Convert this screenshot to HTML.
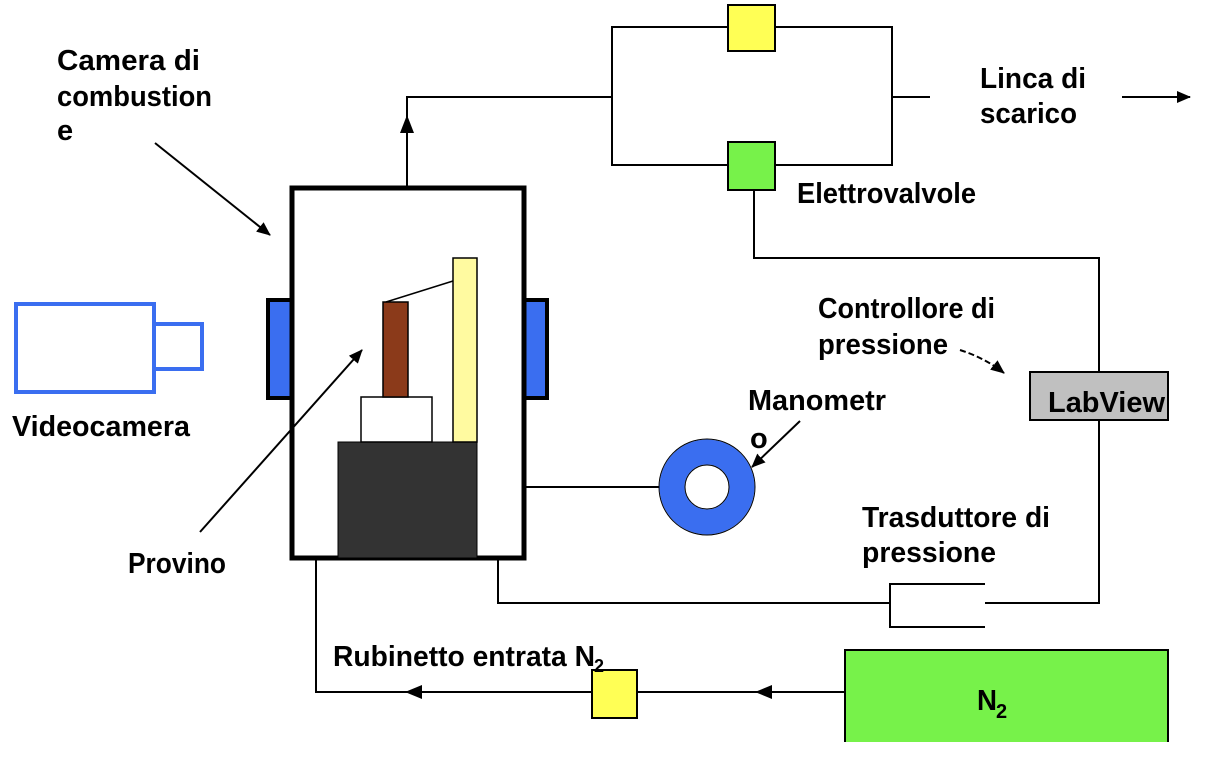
<!DOCTYPE html>
<html><head><meta charset="utf-8"><style>
html,body{margin:0;padding:0;background:#fff;}
svg{display:block;}
text{font-family:"Liberation Sans",Arial,sans-serif;font-size:29px;font-weight:bold;fill:#000;}
</style></head><body>
<svg width="1206" height="762" viewBox="0 0 1206 762" xmlns="http://www.w3.org/2000/svg">
<defs>
<marker id="ah" markerWidth="14" markerHeight="14" refX="13" refY="7" orient="auto" markerUnits="userSpaceOnUse"><path d="M0,1 L14,7 L0,13 z" fill="#000"/></marker>
</defs>
<g fill="none" stroke="#000" stroke-width="2">
<polyline points="407,186 407,97 612,97"/>
<rect x="612" y="27" width="280" height="138"/>
<line x1="892" y1="97" x2="930" y2="97"/>
<line x1="1122" y1="97" x2="1190" y2="97" marker-end="url(#ah)"/>
<polyline points="754,190 754,258 1099,258 1099,372"/>
<polyline points="1099,420 1099,603 985,603"/>
<polyline points="985,584 890,584 890,627 985,627"/>
<polyline points="498,560 498,603 890,603"/>
<line x1="525" y1="487" x2="660" y2="487"/>
<polyline points="845,692 316,692 316,560"/>
</g>
<path d="M400,133 L407,115 L414,133 z" fill="#000"/>
<path d="M772,685 L755,692 L772,699 z" fill="#000"/>
<path d="M422,685 L405,692 L422,699 z" fill="#000"/>
<rect x="728" y="5" width="47" height="46" fill="#ffff55" stroke="#000" stroke-width="2"/>
<rect x="728" y="142" width="47" height="48" fill="#77f24a" stroke="#000" stroke-width="2"/>
<rect x="592" y="670" width="45" height="48" fill="#ffff55" stroke="#000" stroke-width="2"/>
<rect x="268" y="300" width="24" height="98" fill="#3a6ef0" stroke="#000" stroke-width="4"/>
<rect x="524" y="300" width="23" height="98" fill="#3a6ef0" stroke="#000" stroke-width="4"/>
<rect x="292" y="188" width="232" height="370" fill="#fff" stroke="#000" stroke-width="5"/>
<rect x="338" y="442" width="139" height="116" fill="#333" stroke="#000" stroke-width="1"/>
<rect x="361" y="397" width="71" height="45" fill="#fff" stroke="#000" stroke-width="1.5"/>
<rect x="383" y="302" width="25" height="95" fill="#8b3a1a" stroke="#000" stroke-width="1.5"/>
<rect x="453" y="258" width="24" height="184" fill="#fffaa0" stroke="#000" stroke-width="1.5"/>
<line x1="386" y1="302" x2="453" y2="281" stroke="#000" stroke-width="1.5"/>
<rect x="16" y="304" width="138" height="88" fill="#fff" stroke="#3a6ef0" stroke-width="4"/>
<rect x="154" y="324" width="48" height="45" fill="#fff" stroke="#3a6ef0" stroke-width="4"/>
<circle cx="707" cy="487" r="35" fill="none" stroke="#3a6ef0" stroke-width="25"/>
<circle cx="707" cy="487" r="48" fill="none" stroke="#000" stroke-width="1"/>
<circle cx="707" cy="487" r="22" fill="none" stroke="#000" stroke-width="1"/>
<rect x="1030" y="372" width="138" height="48" fill="#c0c0c0" stroke="#000" stroke-width="2"/>
<rect x="845" y="650" width="323" height="100" fill="#77f24a" stroke="#000" stroke-width="2"/>
<rect x="843" y="742" width="330" height="20" fill="#fff"/>
<g stroke="#000" stroke-width="2" fill="none">
<line x1="155" y1="143" x2="270" y2="235" marker-end="url(#ah)"/>
<line x1="200" y1="532" x2="362" y2="350" marker-end="url(#ah)"/>
<line x1="800" y1="421" x2="752" y2="467" marker-end="url(#ah)"/>
<path d="M960,350 Q985,358 1004,373" stroke-dasharray="6,3" marker-end="url(#ah)"/>
</g>
<text x="57" y="70" textLength="143" lengthAdjust="spacingAndGlyphs">Camera di</text>
<text x="57" y="106" textLength="155" lengthAdjust="spacingAndGlyphs">combustion</text>
<text x="57" y="140">e</text>
<text x="12" y="436" textLength="178" lengthAdjust="spacingAndGlyphs">Videocamera</text>
<text x="128" y="573" textLength="98" lengthAdjust="spacingAndGlyphs">Provino</text>
<text x="748" y="410" textLength="138" lengthAdjust="spacingAndGlyphs">Manometr</text>
<text x="750" y="448">o</text>
<text x="818" y="318" textLength="177" lengthAdjust="spacingAndGlyphs">Controllore di</text>
<text x="818" y="354" textLength="130" lengthAdjust="spacingAndGlyphs">pressione</text>
<text x="1048" y="412" textLength="117" lengthAdjust="spacingAndGlyphs">LabView</text>
<text x="862" y="527" textLength="188" lengthAdjust="spacingAndGlyphs">Trasduttore di</text>
<text x="862" y="562" textLength="134" lengthAdjust="spacingAndGlyphs">pressione</text>
<text x="980" y="88" textLength="106" lengthAdjust="spacingAndGlyphs">Linca di</text>
<text x="980" y="123" textLength="97" lengthAdjust="spacingAndGlyphs">scarico</text>
<text x="797" y="203" textLength="179" lengthAdjust="spacingAndGlyphs">Elettrovalvole</text>
<text x="333" y="666" textLength="262" lengthAdjust="spacingAndGlyphs">Rubinetto entrata N</text>
<text x="594" y="672" style="font-size:18px">2</text>
<text x="977" y="710" textLength="20" lengthAdjust="spacingAndGlyphs">N</text>
<text x="996" y="718" style="font-size:20px">2</text>
</svg>
</body></html>
